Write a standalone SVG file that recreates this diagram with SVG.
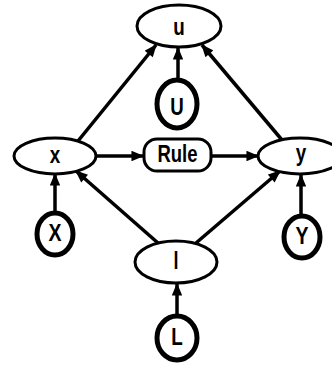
<svg xmlns="http://www.w3.org/2000/svg" width="332" height="366" viewBox="0 0 332 366">
  <style>
    .node { fill: #fff; stroke: #000; stroke-width: 3; }
    .src { fill: #fff; stroke: #000; stroke-width: 5; }
    .lbl { font-family: "Liberation Sans", Arial, sans-serif; font-weight: bold; font-size: 23px; text-anchor: middle; fill: #000; }
    .edge { stroke: #000; stroke-width: 3.5; fill: none; marker-end: url(#head); }
  </style>
  <defs>
    <marker id="head" viewBox="0 0 12 10" refX="11" refY="5" markerWidth="4" markerHeight="3" markerUnits="strokeWidth" orient="auto">
      <path d="M0,0 L12,5 L0,10 Z" fill="#000"/>
    </marker>
  </defs>
  <rect width="332" height="366" fill="#fff"/>

  <g id="connectors">
    <line class="edge" x1="78" y1="141" x2="156" y2="45"/>
    <line class="edge" x1="178" y1="80" x2="178" y2="48"/>
    <line class="edge" x1="282" y1="140" x2="202" y2="45"/>
    <line class="edge" x1="97" y1="156" x2="143" y2="156"/>
    <line class="edge" x1="212" y1="156" x2="258" y2="156"/>
    <line class="edge" x1="55" y1="211" x2="55" y2="174"/>
    <line class="edge" x1="301" y1="214" x2="301" y2="175"/>
    <line class="edge" x1="158" y1="243" x2="76" y2="171"/>
    <line class="edge" x1="196" y1="243" x2="280" y2="171"/>
    <line class="edge" x1="177" y1="315" x2="177" y2="284"/>
  </g>

  <g id="node-u">
    <ellipse class="node" cx="179" cy="26" rx="42" ry="21"/>
    <text class="lbl" x="179" y="35" textLength="11.5" lengthAdjust="spacingAndGlyphs">u</text>
  </g>
  <g id="node-U">
    <ellipse class="src" cx="177" cy="104" rx="20" ry="24"/>
    <text class="lbl" x="177" y="115" textLength="13.5" lengthAdjust="spacingAndGlyphs">U</text>
  </g>
  <g id="node-x">
    <ellipse class="node" cx="55" cy="156" rx="41" ry="18"/>
    <text class="lbl" x="55" y="163" textLength="10.5" lengthAdjust="spacingAndGlyphs">x</text>
  </g>
  <g id="node-rule">
    <rect class="node" x="144" y="139" width="67" height="32" rx="13" ry="13"/>
    <text class="lbl" x="177.5" y="162" textLength="40" lengthAdjust="spacingAndGlyphs">Rule</text>
  </g>
  <g id="node-y">
    <ellipse class="node" cx="300" cy="156" rx="42" ry="18"/>
    <text class="lbl" x="301" y="161" textLength="10.5" lengthAdjust="spacingAndGlyphs">y</text>
  </g>
  <g id="node-X">
    <ellipse class="src" cx="55" cy="234" rx="18" ry="21"/>
    <text class="lbl" x="55" y="241" textLength="13" lengthAdjust="spacingAndGlyphs">X</text>
  </g>
  <g id="node-Y">
    <ellipse class="src" cx="302" cy="237" rx="18" ry="21"/>
    <text class="lbl" x="302" y="244" textLength="13" lengthAdjust="spacingAndGlyphs">Y</text>
  </g>
  <g id="node-l">
    <ellipse class="node" cx="176" cy="262" rx="41" ry="21"/>
    <text class="lbl" x="176" y="269" textLength="5" lengthAdjust="spacingAndGlyphs">l</text>
  </g>
  <g id="node-L">
    <ellipse class="src" cx="177" cy="338" rx="20" ry="22"/>
    <text class="lbl" x="177" y="345" textLength="11.5" lengthAdjust="spacingAndGlyphs">L</text>
  </g>
</svg>
